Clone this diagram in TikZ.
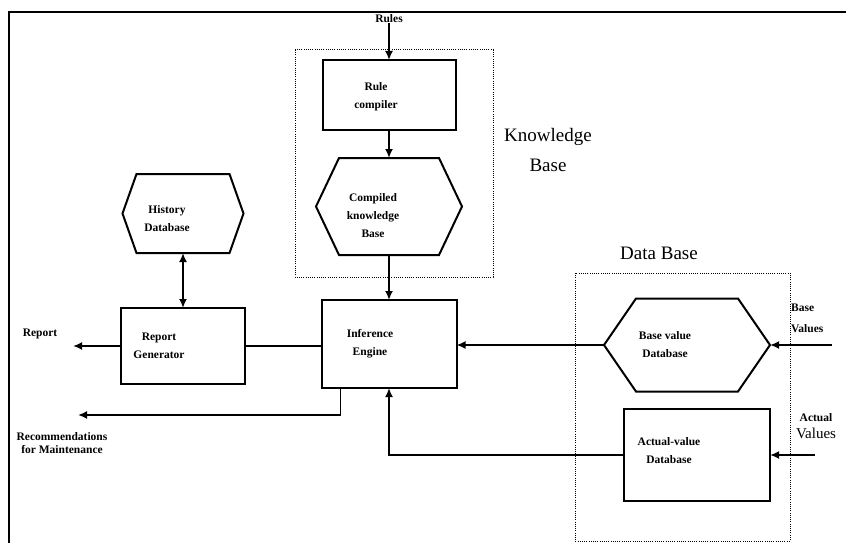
\documentclass[tikz,border=0pt]{standalone}
\usepackage{fontspec}
\setmainfont{Liberation Serif}
\usetikzlibrary{arrows.meta, positioning, calc}

% outline of a database hexagon drawn round a (blank) node
\newcommand{\hexoutline}[2]{%
  \draw[line width=2pt, line join=miter]
    ([xshift=#2]#1.north west) -- ([xshift=-#2]#1.north east) -- (#1.east)
    -- ([xshift=-#2]#1.south east) -- ([xshift=#2]#1.south west) -- (#1.west) -- cycle;}

\begin{document}
\begin{tikzpicture}[
  x=1pt, y=-1pt,
  >=Latex,
  box/.style={
    draw,
    line width=2pt,
    outer sep=0pt,
    inner sep=0pt
  },
  hexbox/.style={
    outer sep=0pt,
    inner sep=0pt
  },
  txt/.style={font=\bfseries\fontsize{11.5}{18}\selectfont, align=center, inner sep=0pt},
  note/.style={font=\bfseries\fontsize{11.5}{13}\selectfont, align=center, inner sep=0pt},
  head/.style={font=\fontsize{19}{30}\selectfont, align=center, inner sep=0pt},
  flow/.style={-{Latex[length=9pt,width=8pt]}, line width=1.8pt},
  twoway/.style={{Latex[length=9pt,width=8pt]}-{Latex[length=9pt,width=8pt]}, line width=1.8pt},
  link/.style={line width=1.8pt},
  group/.style={dash pattern=on 1pt off 1.2pt, line width=1pt}
]
\useasboundingbox (0,0) rectangle (846,543);

% Page frame.
\draw[line width=1.6pt] (9,543) -- (9,12) -- (846,12);

% Knowledge base: compiler and compiled rules.
\draw[group] (295,50) rectangle (493,277);
\node[head] (kbtitle) at (548,150) {Knowledge\\Base};

\node[txt] (rules) at (389,19) {Rules};

\node[box, minimum width=133pt, minimum height=70pt,
  label={[txt, xshift=-13pt, yshift=-2pt]center:Rule\\compiler}] (rc) at (389,95) {};

\node[hexbox, minimum width=146pt, minimum height=97pt,
  label={[txt, xshift=-16pt, yshift=-9pt]center:Compiled\\knowledge\\Base}] (ckb) at (389,206.5) {};
\hexoutline{ckb}{23pt}

% Inference engine and report side.
\node[box, minimum width=135pt, minimum height=88pt,
  label={[txt, xshift=-19pt]center:Inference\\Engine}] (ie) at (389,344) {};

\node[box, minimum width=124pt, minimum height=76pt,
  label={[txt, xshift=-24pt]center:Report\\Generator}] (rg) at (183,346) {};

\node[hexbox, minimum width=121pt, minimum height=79pt,
  label={[txt, xshift=-16pt, yshift=-5pt]center:History\\Database}] (hd) at (183,213.5) {};
\hexoutline{hd}{14pt}

\node[txt] (report) at (40,334) {Report};
\node[note] (recs) at (62,443) {Recommendations\\for Maintenance};

% Data base group.
\draw[group] (575,273) rectangle (790,541);
\node[head] (dbtitle) at (659,253) {Data Base};

\node[hexbox, minimum width=166pt, minimum height=93pt,
  label={[txt, xshift=-22pt]center:Base value\\Database}] (bvd) at (687,345) {};
\hexoutline{bvd}{32pt}

\node[box, minimum width=146pt, minimum height=92pt,
  label={[txt, xshift=-28pt, yshift=4pt]center:Actual-value\\Database}] (avd) at (697,455) {};

\node[txt, align=left, anchor=west, font=\bfseries\fontsize{11.5}{21}\selectfont] (bvals) at (791,318) {Base\\Values};
\node[txt, align=center] (avals) at (816,426)
  {Actual\\[-1pt]{\mdseries\fontsize{15}{15}\selectfont Values}};

% Free ends of the in- and outgoing lines.
\coordinate (bvin) at (832,345);
\coordinate (avin) at (815,455);
\coordinate (repend) at (73,346);
\coordinate (recend) at (78,415);

% Connectors.
\draw[flow] (rules) -- (rc.north);
\draw[flow] (rc.south) -- (ckb.north);
\draw[flow] (ckb.south) -- (ie.north);
\draw[twoway] (hd.south) -- (rg.north);
\draw[link] (rg.east) -- (rg.east -| ie.west);
\draw[flow] (rg.west) -- (repend);
\draw[flow] ([xshift=19pt]ie.south west) |- (recend);
\draw[flow] (bvd.west) -- (bvd.west -| ie.east);
\draw[flow] (avd.west) -| (ie.south);
\draw[flow] (bvin) -- (bvd.east);
\draw[flow] (avin) -- (avd.east);

\end{tikzpicture}
\end{document}
